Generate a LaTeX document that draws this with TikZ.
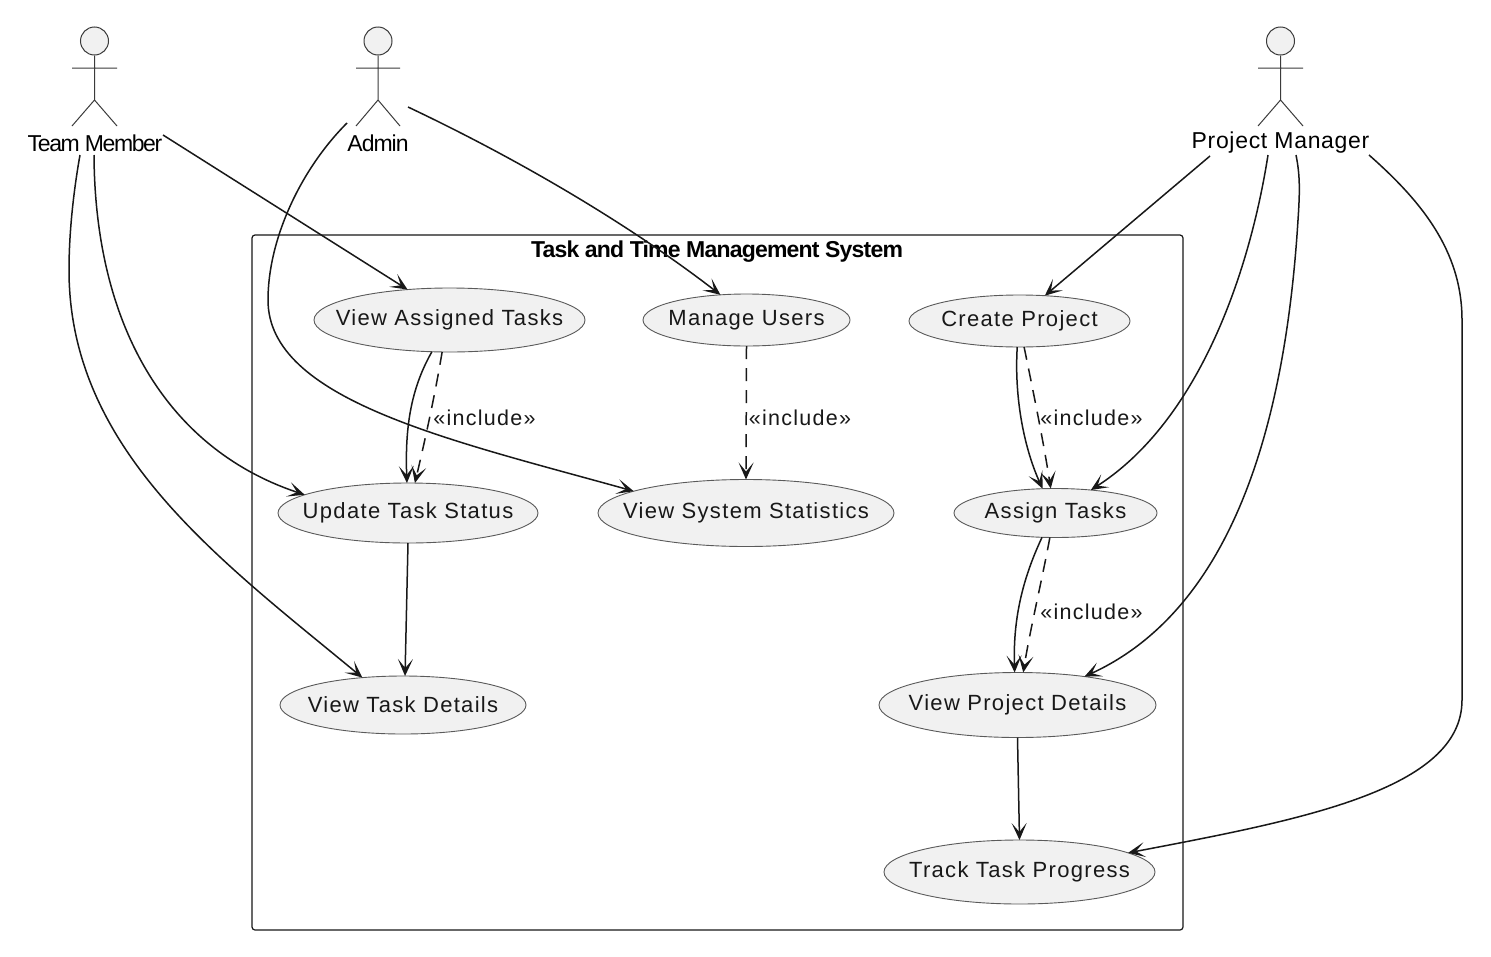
\documentclass[tikz,border=0pt]{standalone}
\usepackage{fontspec}
\setmainfont{Liberation Sans}
\newfontfamily\ucfont[LetterSpace=6]{Liberation Sans}
\newfontfamily\tmfont[LetterSpace=-6]{Liberation Sans}
\newfontfamily\adfont[LetterSpace=-4.5]{Liberation Sans}
\newfontfamily\pmfont[LetterSpace=3]{Liberation Sans}
\newfontfamily\ttlfont[LetterSpace=-3.5]{Liberation Sans}
\usetikzlibrary{arrows.meta,shapes.geometric,calc}
\definecolor{ink}{HTML}{181818}
\definecolor{ucfill}{HTML}{F1F1F1}
\definecolor{ucline}{HTML}{5A5A5A}
\newcommand{\uctext}[1]{\makebox[0pt]{\ucfont\fontsize{22}{26}\selectfont #1}}
\tikzset{
  usecase/.style={ellipse,draw=ucline,fill=ucfill,line width=0.9pt,inner sep=0pt,outer sep=0pt,text=ink},
  head/.style={circle,draw=ink!85,fill=ucfill,line width=1pt,minimum size=28pt,inner sep=0pt},
  limb/.style={draw=ink!85,line width=1pt},
  actorlabel/.style={inner sep=0pt,text=black,anchor=center},
  flow/.style={draw=ink,line width=1.5pt,-{Stealth[length=17pt,width=15pt,inset=9pt]}},
  incl/.style={flow,dash pattern=on 13pt off 9pt},
  incllabel/.style={inner sep=0pt,text=ink},
  sysbox/.style={draw=ink,line width=1.2pt,rounded corners=3pt}
}
\begin{document}
\begin{tikzpicture}[x=1pt,y=-1pt]
\useasboundingbox (0,0) rectangle (1491,956);
\fill[white] (0,0) rectangle (1491,956);
\draw[sysbox] (252,235) rectangle (1183,930);
\node[inner sep=0pt,text=black] (title) at (717,252) {\ttlfont\bfseries\fontsize{23}{27}\selectfont Task and Time Management System};
% actors
\node[head] (tmh) at (94.5,41) {};
\draw[limb] (tmh.south) -- (94.5,100) (72,68) -- (117,68) (72,126) -- (94.5,100) -- (117,126);
\node[head] (adh) at (378,41) {};
\draw[limb] (adh.south) -- (378,100) (356,68) -- (400,68) (356,126) -- (378,100) -- (400,126);
\node[head] (pmh) at (1280.5,41) {};
\draw[limb] (pmh.south) -- (1280.5,100) (1258,68) -- (1303,68) (1258,126) -- (1280.5,100) -- (1303,126);
\node[actorlabel] (tm) at (95,143) {\tmfont\fontsize{23}{27}\selectfont Team Member};
\node[actorlabel] (ad) at (378,143) {\adfont\fontsize{23}{27}\selectfont Admin};
\node[actorlabel] (pm) at (1280.5,143) {\pmfont\fontsize{23}{27}\selectfont Project Manager};
% use cases
\node[usecase,minimum width=271pt,minimum height=64pt] (vat) at (449.5,320) {\uctext{View Assigned Tasks}};
\node[usecase,minimum width=207pt,minimum height=52pt] (mu) at (746.5,320) {\uctext{Manage Users}};
\node[usecase,minimum width=221pt,minimum height=52pt] (cp) at (1019.5,321) {\uctext{Create Project}};
\node[usecase,minimum width=260pt,minimum height=60pt] (uts) at (408,513) {\uctext{Update Task Status}};
\node[usecase,minimum width=296pt,minimum height=67pt] (vss) at (746,513) {\uctext{View System Statistics}};
\node[usecase,minimum width=203pt,minimum height=49pt] (at) at (1055.5,513) {\uctext{Assign Tasks}};
\node[usecase,minimum width=246pt,minimum height=58pt] (vtd) at (403,705) {\uctext{View Task Details}};
\node[usecase,minimum width=277pt,minimum height=65pt] (vpd) at (1017.5,705) {\uctext{View Project Details}};
\node[usecase,minimum width=271pt,minimum height=64pt] (ttp) at (1019.5,872) {\uctext{Track Task Progress}};
% connector free ends beside the actors
\coordinate (tmA) at (163,135);
\coordinate (tmB) at (94,155);
\coordinate (tmC) at (80,155);
\coordinate (adA) at (408,107);
\coordinate (adB) at (347,123);
\coordinate (pmA) at (1210,156);
\coordinate (pmB) at (1268,155);
\coordinate (pmC) at (1296,155);
\coordinate (pmD) at (1369,155);
% actor connectors
\draw[flow] (tmA) -- (vat.144);
\draw[flow] (tmB) .. controls (95,330) and (170,450) .. (uts.170);
\draw[flow] (tmC) .. controls (72,200) and (69,240) .. (69,270) .. controls (69,450) and (220,560) .. (vtd.146);
\draw[flow] (adA) .. controls (520,160) and (630,225) .. (mu.136);
\draw[flow] (adB) .. controls (300,170) and (268,240) .. (268,300) .. controls (268,400) and (450,440) .. (vss.169);
\draw[flow] (pmA) -- (cp.45);
\draw[flow] (pmB) .. controls (1250,270) and (1200,420) .. (at.33);
\draw[flow] (pmC) .. controls (1300,175) and (1300,190) .. (1298,220) .. controls (1285,430) and (1230,610) .. (vpd.23);
\draw[flow] (pmD) .. controls (1420,200) and (1462,250) .. (1462,320) -- (1462,700) .. controls (1462,790) and (1300,820) .. (ttp.10);
% use case connectors
\draw[flow] (vat.241) .. controls (410,390) and (405,430) .. (uts.92);
\draw[incl] (vat.257) .. controls (435,395) and (425,440) .. (uts.77);
\draw[incl] (mu.south) -- (vss.north);
\draw[flow] (cp.265) .. controls (1014,400) and (1025,450) .. (at.118);
\draw[incl] (cp.280) .. controls (1034,395) and (1044,445) .. (at.101);
\draw[flow] (at.241) .. controls (1022,580) and (1013,620) .. (vpd.95);
\draw[incl] (at.257) .. controls (1042,580) and (1030,630) .. (vpd.80);
\draw[flow] (uts.south) -- (vtd.86);
\draw[flow] (vpd.south) -- (ttp.north);
% labels
\node[incllabel] (l1) at (484.5,418) {\ucfont\fontsize{21.5}{26}\selectfont «include»};
\node[incllabel] (l2) at (800,418) {\ucfont\fontsize{21.5}{26}\selectfont «include»};
\node[incllabel] (l3) at (1091.5,418) {\ucfont\fontsize{21.5}{26}\selectfont «include»};
\node[incllabel] (l4) at (1091.5,612) {\ucfont\fontsize{21.5}{26}\selectfont «include»};
\end{tikzpicture}
\end{document}
